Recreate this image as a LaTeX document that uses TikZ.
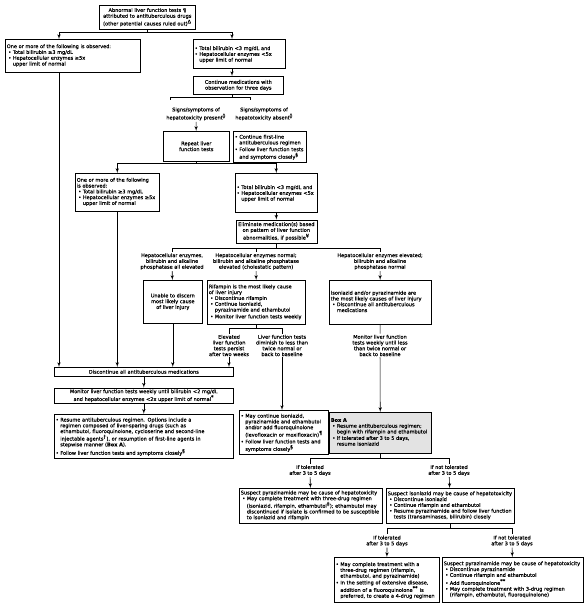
\documentclass[tikz,border=0pt]{standalone}
\usepackage{fontspec}
\setmainfont{DejaVu Sans}[FakeBold=0.3]
\usepackage{tikz}
\usetikzlibrary{arrows,positioning}

\newcommand{\bitem}[1]{\par\lineskip=0.6pt\noindent\makebox[4.5pt][l]{\textbullet}\begin{tabular}[t]{@{}l@{}}#1\end{tabular}}
\newcommand{\iitem}[1]{\par\lineskip=0.6pt\noindent\hspace*{1.5pt}\makebox[4.5pt][l]{\textbullet}\begin{tabular}[t]{@{}l@{}}#1\end{tabular}}
\newcommand{\fn}[1]{\textsuperscript{#1}}

\begin{document}
\begin{tikzpicture}[x=1pt, y=1pt, >=latex', line width=0.6pt,
	every node/.style={font=\fontsize{5}{5.8}\selectfont},
	box/.style={draw, rectangle, inner sep=1.5pt, align=left, anchor=north west},
	cbox/.style={box, align=center},
	lbl/.style={inner sep=1pt, align=center}]
		\useasboundingbox (0,0) rectangle (586,-607);
		\node (start) [cbox, text width=93pt, minimum height=24pt] at (99,-5) {Abnormal liver function tests \textbf{¶}\\attributed to antituberculous drugs\\(other potential causes ruled out)\fn{Δ}};
		\node (high1) [box, text width=132pt, minimum height=33pt] at (5,-39) {One or more of the following is observed:\iitem{Total bilirubin ≥3 mg/dL}\iitem{Hepatocellular enzymes ≥5x\\upper limit of normal}};
		\node (low1) [box, text width=89pt, minimum height=29pt] at (193,-39) {\bitem{Total bilirubin <3 mg/dL and}\bitem{Hepatocellular enzymes <5x\\upper limit of normal}\par\vspace*{5pt}};
		\node (cont) [cbox, text width=87pt, minimum height=18pt] at (193,-76) {Continue medications with\\observation for three days};
		\node (sigL) [lbl] at (196,-114) {Signs/symptoms of\\hepatotoxicity present\fn{◊}};
		\node (sigR) [lbl] at (264,-114) {Signs/symptoms of\\hepatotoxicity absent\fn{◊}};
		\node (rep) [cbox, text width=63pt, minimum height=30pt] at (163,-131) {Repeat liver\\function tests};
		\node (contfl) [box, text width=70pt, minimum height=30pt] at (233,-131) {\bitem{Continue first-line\\antituberculous regimen}\bitem{Follow liver function tests\\and symptoms closely\fn{§}}};
		\node (high2) [box, text width=81pt, minimum height=38pt] at (75,-173) {One or more of the following\\is observed:\iitem{Total bilirubin ≥3 mg/dL}\iitem{Hepatocellular enzymes ≥5x\\upper limit of normal}};
		\node (low2) [box, text width=79pt, minimum height=39pt] at (235,-173) {\bitem{Total bilirubin <3 mg/dL and}\bitem{Hepatocellular enzymes <5x\\upper limit of normal}\par\vspace*{17pt}};
		\node (elim) [cbox, text width=78pt, minimum height=23pt, below=7pt of low2] {Eliminate medication(s) based\\on pattern of liver function\\abnormalities, if possible\fn{¥}};
		\node (labA) [lbl] at (172,-261.5) {Hepatocellular enzymes,\\bilirubin and alkaline\\phosphatase all elevated};
		\node (labB) [lbl] at (256,-261.5) {Hepatocellular enzymes normal;\\bilirubin and alkaline phosphatase\\elevated (cholestatic pattern)};
		\node (labC) [lbl] at (380,-261.5) {Hepatocellular enzymes elevated;\\bilirubin and alkaline\\phosphatase normal};
		\node (unable) [cbox, text width=56pt, minimum height=43pt] at (143,-280) {Unable to discern\\most likely cause\\of liver injury};
		\node (rif) [box, text width=95pt, minimum height=44pt] at (207,-280) {Rifampin is the most likely cause\\of liver injury\iitem{Discontinue rifampin}\iitem{Continue isoniazid,\\pyrazinamide and ethambutol}\iitem{Monitor liver function tests weekly}};
		\node (inh) [box, text width=99pt, minimum height=44pt] at (329,-280) {Isoniazid and/or pyrazinamide are\\the most likely causes of liver injury\iitem{Discontinue all antituberculous\\medications}\par\vspace*{15pt}};
		\node (labD) [lbl] at (229,-345.5) {Elevated\\liver function\\tests persist\\after two weeks};
		\node (labE) [lbl] at (282,-345.5) {Liver function tests\\diminish to less than\\twice normal or\\back to baseline};
		\node (labF) [lbl] at (380,-345.5) {Monitor liver function\\tests weekly until less\\than twice normal or\\back to baseline};
		\node (disc) [cbox, text width=176pt, minimum height=9pt] at (54,-367) {Discontinue all antituberculous medications};
		\node (mon) [cbox, text width=176pt, minimum height=14pt, below=11pt of disc] {Monitor liver function tests weekly until bilirubin <2 mg/dL\\and hepatocellular enzymes <2x upper limit of normal\fn{*}};
		\node (resume) [box, text width=176pt, minimum height=44pt, below=10pt of mon] {\bitem{Resume antituberculous regimen. Options include a\\regimen composed of liver-sparing drugs (such as\\ethambutol, fluoroquinolone, cycloserine and second-line\\injectable agents\fn{†}), or resumption of first-line agents in\\stepwise manner (\textbf{Box A}).}\bitem{Follow liver function tests and symptoms closely\fn{§}}};
		\node (maycont) [box, text width=85.5pt, minimum height=43pt] at (239,-410) {\bitem{May continue isoniazid,\\pyrazinamide and ethambutol\\and/or add fluoroquinolone\\(levofloxacin or moxifloxacin)\fn{¶}}\bitem{Follow liver function tests and\\symptoms closely\fn{§}}};
		\node (boxA) [box, fill=gray!22, text width=99pt, minimum height=41pt] at (329,-412) {\textbf{Box A}\iitem{Resume antituberculous regimen;\\begin with rifampin and ethambutol}\iitem{If tolerated after 3 to 5 days,\\resume isoniazid}\par\vspace*{7pt}};
		\node (labG) [lbl] at (310,-470.5) {If tolerated\\after 3 to 5 days};
		\node (labH) [lbl] at (449,-470.5) {If not tolerated\\after 3 to 5 days};
		\node (pza1) [box, text width=140pt, minimum height=35pt] at (239,-488) {Suspect pyrazinamide may be cause of hepatotoxicity\iitem{May complete treatment with three-drug regimen\\(isoniazid, rifampin, ethambutol\fn{‡}); ethambutol may\\discontinued if isolate is confirmed to be susceptible\\to isoniazid and rifampin}};
		\node (inh2) [box, text width=125pt, minimum height=35pt] at (386,-488) {Suspect isoniazid may be cause of hepatotoxicity\iitem{Discontinue isoniazid}\iitem{Continue rifampin and ethambutol}\iitem{Resume pyrazinamide and follow liver function\\tests (transaminases, bilirubin) closely}};
		\node (labI) [lbl] at (387,-541) {If tolerated\\after 3 to 5 days};
		\node (labJ) [lbl] at (512,-541) {If not tolerated\\after 3 to 5 days};
		\node (comp) [box, text width=102pt, minimum height=45pt] at (334,-557) {\bitem{May complete treatment with a\\three-drug regimen (rifampin,\\ethambutol, and pyrazinamide)}\bitem{In the setting of extensive disease,\\addition of a fluoroquinolone\fn{**} is\\preferred, to create a 4-drug regimen}};
		\node (pza2) [box, text width=138pt, minimum height=45pt] at (442,-557) {Suspect pyrazinamide may be cause of hepatotoxicity\iitem{Discontinue pyrazinamide}\iitem{Continue rifampin and ethambutol}\iitem{Add fluoroquinolone\fn{**}}\iitem{May complete treatment with 3-drug regimen\\(rifampin, ethambutol, fluoroquinolone)}};

		\draw (start) -- (start.south |- 0,-32);
		\draw [->] (start.south |- 0,-32) -| (high1.north -| 59,0);
		\draw [->] (start.south |- 0,-32) -| (low1.north -| 232,0);
		\draw [->] (high1.south -| 59,0) -- (disc.north -| 59,0);
		\draw [->] (low1.south -| 232,0) -- (cont.north -| 232,0);
		\draw (cont.south -| 232,0) -- (232,-97);
		\draw (170,-100) |- (250,-97) -- (250,-100);
		\draw [->] (sigL) -- (rep);
		\draw [->] (rep.south) -- ++(0,-2) -| (high2.north);
		\draw [->] (rep.south) -- ++(0,-2) -| (low2.north);
		\draw [->] (high2.south) -- (high2.south |- disc.north);
		\draw [->] (low2) -- (elim);
		\draw (elim.south) -- ++(0,-5) -| (labA.north);
		\draw (elim.south) -- ++(0,-5) -| (labB.north);
		\draw (elim.south) -- ++(0,-5) -| (labC.north);
		\draw [->] (labA) -- (unable);
		\draw [->] (labB) -- (rif);
		\draw [->] (labC) -- (inh);
		\draw [->] (unable.south) -- (unable.south |- disc.north);
		\draw (rif.south) -- ++(0,-4) -| (labD.north);
		\draw (rif.south) -- ++(0,-4) -| (labE.north);
		\draw [->] (labD.south) -- (labD.south |- disc.north);
		\draw [->] (labE.south) -- (labE.south |- maycont.north);
		\draw (inh) -- (labF);
		\draw [->] (labF) -- (boxA);
		\draw [->] (disc) -- (mon);
		\draw [->] (mon) -- (resume);
		\draw (boxA.south) -- ++(0,-5) -| (labG.north);
		\draw (boxA.south) -- ++(0,-5) -| (labH.north);
		\draw [->] (labG) -- (pza1);
		\draw [->] (labH) -- (inh2);
		\draw (inh2.south) -- ++(0,-5) -| (labI.north);
		\draw (inh2.south) -- ++(0,-5) -| (labJ.north);
		\draw [->] (labI) -- (comp);
		\draw [->] (labJ) -- (pza2);
	\end{tikzpicture}
\end{document}
